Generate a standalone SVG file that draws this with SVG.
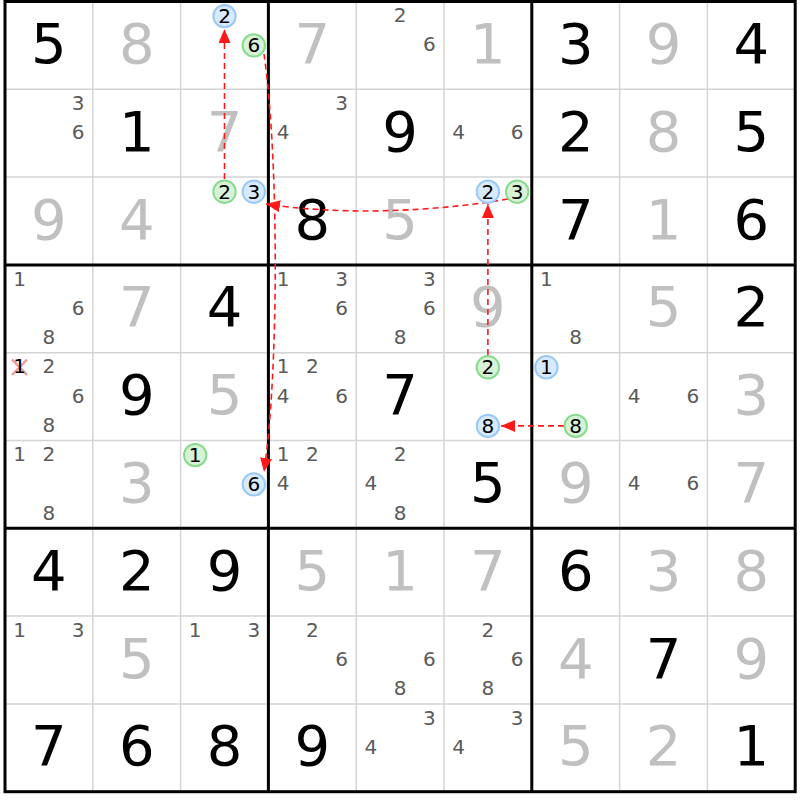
<svg xmlns="http://www.w3.org/2000/svg" width="800" height="800" viewBox="0 0 800 800">
<defs>
<style>
.b{font-family:"DejaVu Sans",Verdana,sans-serif;font-size:56px;text-anchor:middle;fill:#000}
.s{fill:#c0c0c0}
.c{font-family:"DejaVu Sans",Verdana,sans-serif;font-size:20px;text-anchor:middle;fill:#5a5a5a}
.k{fill:#000}
.thin{stroke:#d4d4d4;stroke-width:1.5}
.thick{stroke:#000;stroke-width:3;fill:none}
.blue{fill:#d8eaff;stroke:#99c9f7;stroke-width:2}
.green{fill:#d8f2d8;stroke:#86dc8c;stroke-width:2}
.link{fill:none;stroke:#ff1a1a;stroke-width:1.6;stroke-dasharray:6 4}
</style>
<marker id="ah" markerUnits="userSpaceOnUse" markerWidth="15" markerHeight="13" refX="14" refY="6" orient="auto">
<path d="M0,0 L14,6 L0,12 z" fill="#ff1a1a"/>
</marker>
</defs>
<rect x="0" y="0" width="800" height="800" fill="#fff"/>
<g id="grid">
<path class="thin" d="M92.8,1.5V791.7M180.6,1.5V791.7M356.2,1.5V791.7M444,1.5V791.7M619.6,1.5V791.7M707.4,1.5V791.7M5,89.3H795.2M5,177.1H795.2M5,352.7H795.2M5,440.5H795.2M5,616.1H795.2M5,703.9H795.2"/>
<path class="thick" d="M268.4,1.5V791.7M531.8,1.5V791.7M5,264.9H795.2M5,528.3H795.2"/>
<rect class="thick" x="5" y="1.5" width="790.2" height="790.2"/>
</g>
<g id="values">
<text class="b" x="48.9" y="62.9">5</text><text class="b s" x="136.7" y="62.9">8</text><text class="b s" x="312.3" y="62.9">7</text><text class="b s" x="487.9" y="62.9">1</text><text class="b" x="575.7" y="62.9">3</text><text class="b s" x="663.5" y="62.9">9</text><text class="b" x="751.3" y="62.9">4</text>
<text class="b" x="136.7" y="150.7">1</text><text class="b s" x="224.5" y="150.7">7</text><text class="b" x="400.1" y="150.7">9</text><text class="b" x="575.7" y="150.7">2</text><text class="b s" x="663.5" y="150.7">8</text><text class="b" x="751.3" y="150.7">5</text>
<text class="b s" x="48.9" y="238.5">9</text><text class="b s" x="136.7" y="238.5">4</text><text class="b" x="312.3" y="238.5">8</text><text class="b s" x="400.1" y="238.5">5</text><text class="b" x="575.7" y="238.5">7</text><text class="b s" x="663.5" y="238.5">1</text><text class="b" x="751.3" y="238.5">6</text>
<text class="b s" x="136.7" y="326.3">7</text><text class="b" x="224.5" y="326.3">4</text><text class="b s" x="487.9" y="326.3">9</text><text class="b s" x="663.5" y="326.3">5</text><text class="b" x="751.3" y="326.3">2</text>
<text class="b" x="136.7" y="414.1">9</text><text class="b s" x="224.5" y="414.1">5</text><text class="b" x="400.1" y="414.1">7</text><text class="b s" x="751.3" y="414.1">3</text>
<text class="b s" x="136.7" y="501.9">3</text><text class="b" x="487.9" y="501.9">5</text><text class="b s" x="575.7" y="501.9">9</text><text class="b s" x="751.3" y="501.9">7</text>
<text class="b" x="48.9" y="589.7">4</text><text class="b" x="136.7" y="589.7">2</text><text class="b" x="224.5" y="589.7">9</text><text class="b s" x="312.3" y="589.7">5</text><text class="b s" x="400.1" y="589.7">1</text><text class="b s" x="487.9" y="589.7">7</text><text class="b" x="575.7" y="589.7">6</text><text class="b s" x="663.5" y="589.7">3</text><text class="b s" x="751.3" y="589.7">8</text>
<text class="b s" x="136.7" y="677.5">5</text><text class="b s" x="575.7" y="677.5">4</text><text class="b" x="663.5" y="677.5">7</text><text class="b s" x="751.3" y="677.5">9</text>
<text class="b" x="48.9" y="765.3">7</text><text class="b" x="136.7" y="765.3">6</text><text class="b" x="224.5" y="765.3">8</text><text class="b" x="312.3" y="765.3">9</text><text class="b s" x="575.7" y="765.3">5</text><text class="b s" x="663.5" y="765.3">2</text><text class="b" x="751.3" y="765.3">1</text>
</g>
<g id="candidates">
<text class="c" x="400.1" y="22.1">2</text><text class="c" x="429.4" y="51.4">6</text>
<text class="c" x="78.2" y="109.9">3</text><text class="c" x="78.2" y="139.2">6</text>
<text class="c" x="341.6" y="109.9">3</text><text class="c" x="283" y="139.2">4</text>
<text class="c" x="458.6" y="139.2">4</text><text class="c" x="517.2" y="139.2">6</text>
<text class="c" x="19.6" y="285.5">1</text><text class="c" x="78.2" y="314.8">6</text><text class="c" x="48.9" y="344.1">8</text>
<text class="c" x="283" y="285.5">1</text><text class="c" x="341.6" y="285.5">3</text><text class="c" x="341.6" y="314.8">6</text>
<text class="c" x="429.4" y="285.5">3</text><text class="c" x="429.4" y="314.8">6</text><text class="c" x="400.1" y="344.1">8</text>
<text class="c" x="546.4" y="285.5">1</text><text class="c" x="575.7" y="344.1">8</text>
<text class="c" x="48.9" y="373.3">2</text><text class="c" x="78.2" y="402.6">6</text><text class="c" x="48.9" y="431.9">8</text>
<text class="c" x="283" y="373.3">1</text><text class="c" x="312.3" y="373.3">2</text><text class="c" x="283" y="402.6">4</text><text class="c" x="341.6" y="402.6">6</text>
<text class="c" x="634.2" y="402.6">4</text><text class="c" x="692.8" y="402.6">6</text>
<text class="c" x="19.6" y="461.1">1</text><text class="c" x="48.9" y="461.1">2</text><text class="c" x="48.9" y="519.7">8</text>
<text class="c" x="283" y="461.1">1</text><text class="c" x="312.3" y="461.1">2</text><text class="c" x="283" y="490.4">4</text>
<text class="c" x="400.1" y="461.1">2</text><text class="c" x="370.8" y="490.4">4</text><text class="c" x="400.1" y="519.7">8</text>
<text class="c" x="634.2" y="490.4">4</text><text class="c" x="692.8" y="490.4">6</text>
<text class="c" x="19.6" y="636.7">1</text><text class="c" x="78.2" y="636.7">3</text>
<text class="c" x="195.2" y="636.7">1</text><text class="c" x="253.8" y="636.7">3</text>
<text class="c" x="312.3" y="636.7">2</text><text class="c" x="341.6" y="666">6</text>
<text class="c" x="429.4" y="666">6</text><text class="c" x="400.1" y="695.3">8</text>
<text class="c" x="487.9" y="636.7">2</text><text class="c" x="517.2" y="666">6</text><text class="c" x="487.9" y="695.3">8</text>
<text class="c" x="429.4" y="724.5">3</text><text class="c" x="370.8" y="753.8">4</text>
<text class="c" x="517.2" y="724.5">3</text><text class="c" x="458.6" y="753.8">4</text>
</g>
<g id="eliminated">
<path d="M12,359.5 L27,375 M12,375 L27,359.5" stroke="#f29a9a" stroke-width="2.5" fill="none"/>
<text class="c k" x="19.6" y="373.3">1</text>
</g>
<g id="connectors">
<path class="link" d="M224.5,179 L224.5,29" marker-end="url(#ah)"/>
<path class="link" d="M264,54 C279,160 279,370 264,472" marker-end="url(#ah)"/>
<path class="link" d="M508,199 C420,214 330,214 266,204" marker-end="url(#ah)"/>
<path class="link" d="M487.9,355 L487.9,204" marker-end="url(#ah)"/>
<path class="link" d="M564,425.9 L501,425.9" marker-end="url(#ah)"/>
</g>
<g id="n1"><circle class="blue" cx="224.5" cy="16.1" r="11.2"/><text class="c k" x="224.5" y="23.1">2</text></g>
<g id="n2"><circle class="green" cx="253.8" cy="45.4" r="11.2"/><text class="c k" x="253.8" y="52.4">6</text></g>
<g id="n3"><circle class="green" cx="224.5" cy="191.7" r="11.2"/><text class="c k" x="224.5" y="198.7">2</text></g>
<g id="n4"><circle class="blue" cx="253.8" cy="191.7" r="11.2"/><text class="c k" x="253.8" y="198.7">3</text></g>
<g id="n5"><circle class="blue" cx="487.9" cy="191.7" r="11.2"/><text class="c k" x="487.9" y="198.7">2</text></g>
<g id="n6"><circle class="green" cx="517.2" cy="191.7" r="11.2"/><text class="c k" x="517.2" y="198.7">3</text></g>
<g id="n7"><circle class="green" cx="487.9" cy="367.3" r="11.2"/><text class="c k" x="487.9" y="374.3">2</text></g>
<g id="n8"><circle class="blue" cx="487.9" cy="425.9" r="11.2"/><text class="c k" x="487.9" y="432.9">8</text></g>
<g id="n9"><circle class="blue" cx="546.4" cy="367.3" r="11.2"/><text class="c k" x="546.4" y="374.3">1</text></g>
<g id="n10"><circle class="green" cx="575.7" cy="425.9" r="11.2"/><text class="c k" x="575.7" y="432.9">8</text></g>
<g id="n11"><circle class="green" cx="195.2" cy="455.1" r="11.2"/><text class="c k" x="195.2" y="462.1">1</text></g>
<g id="n12"><circle class="blue" cx="253.8" cy="484.4" r="11.2"/><text class="c k" x="253.8" y="491.4">6</text></g>
</svg>
